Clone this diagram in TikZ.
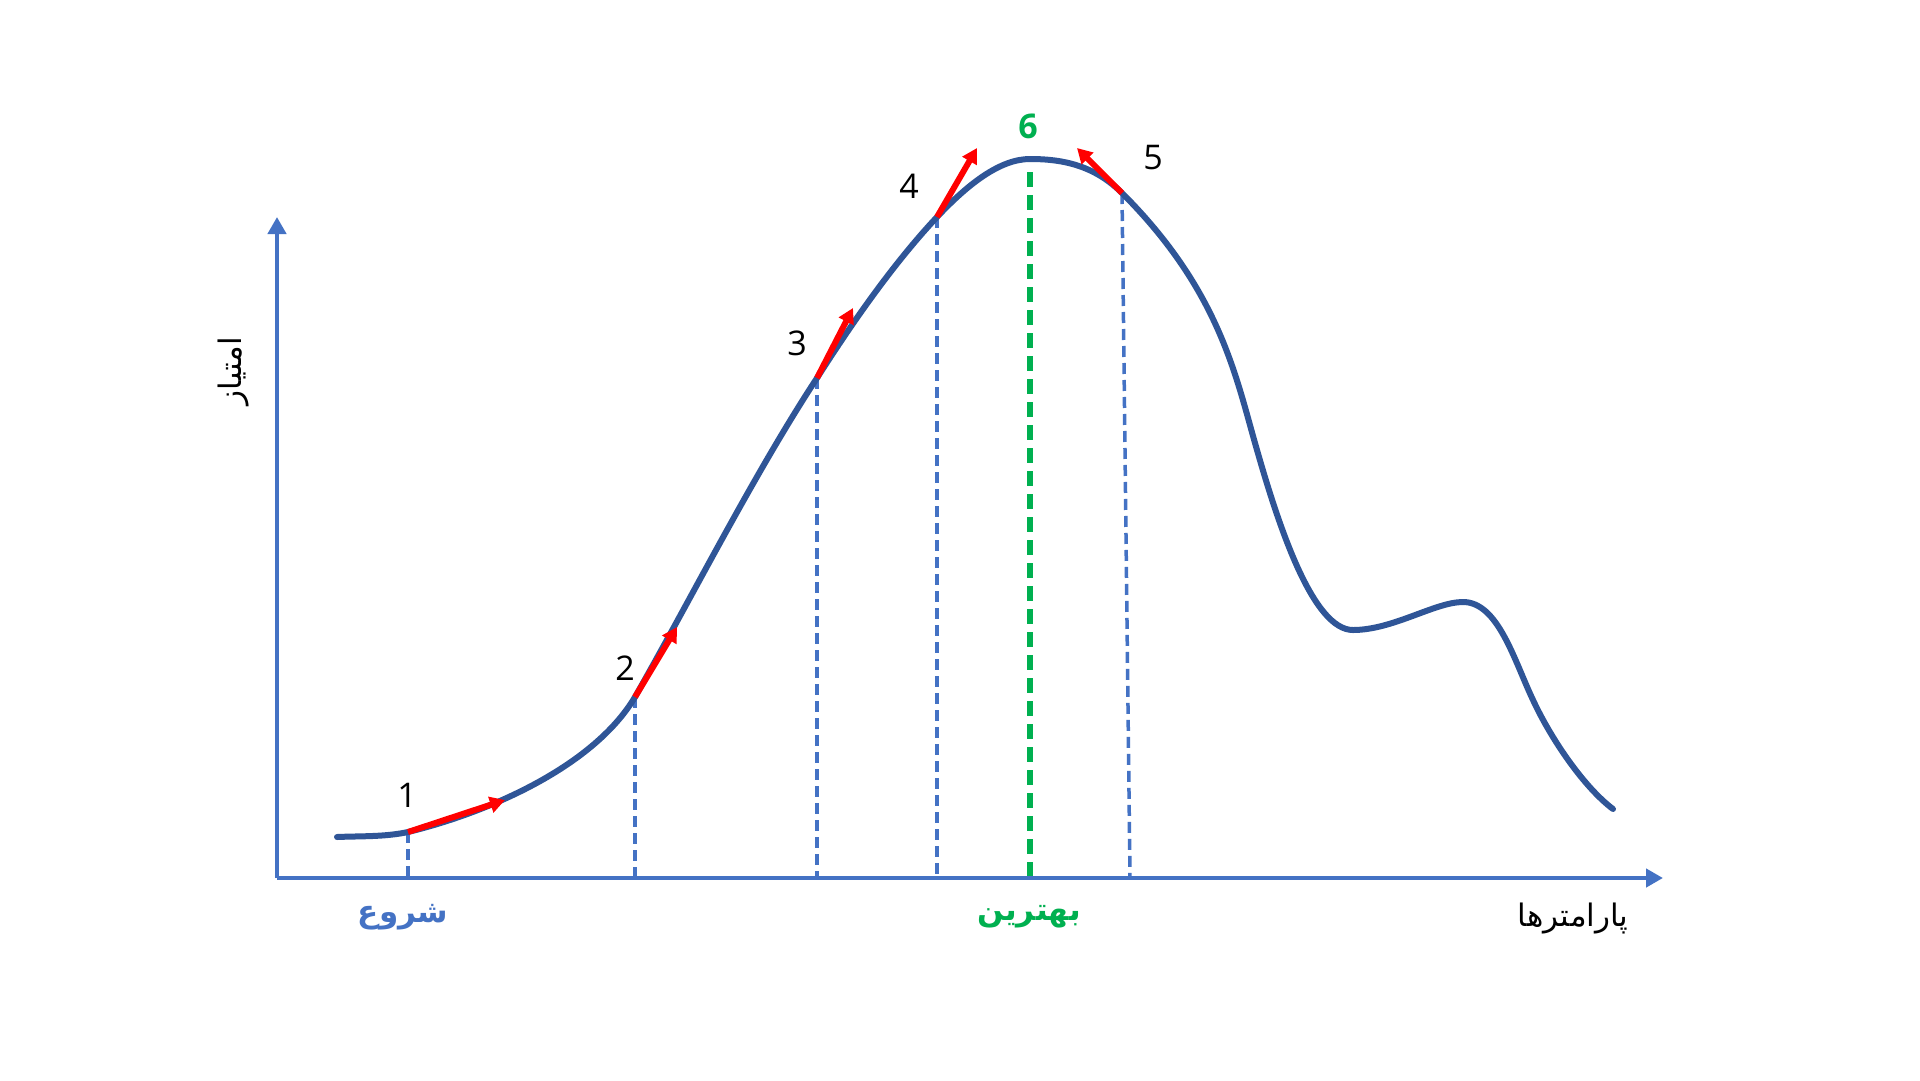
\documentclass[tikz,border=0pt]{standalone}
\usepackage{fontspec}
\setmainfont{Open Sans}
\newfontfamily\arabicfont[Script=Arabic]{DejaVu Sans}
\TeXXeTstate=1
\usetikzlibrary{arrows.meta}
\definecolor{axisblue}{HTML}{4472C4}
\definecolor{curveblue}{HTML}{2F5597}
\definecolor{bestgreen}{HTML}{00B050}
\definecolor{tanred}{HTML}{FF0000}
\tikzset{
  axisline/.style={axisblue, line width=4.5pt, -{Triangle[length=17pt,width=18pt]}},
  curveline/.style={curveblue, line width=6pt, line cap=round},
  tangent/.style={tanred, line width=6pt, -{Triangle[length=15pt,width=16pt]}},
  guide/.style={axisblue, line width=3.5pt, dash pattern=on 11pt off 6pt},
  bestguide/.style={bestgreen, line width=5.5pt, dash pattern=on 15pt off 8pt},
  numlabel/.style={font=\fontsize{34}{40}\selectfont, text=black, inner sep=0pt},
  arlabel/.style={font=\fontsize{31}{36}\selectfont\arabicfont, inner sep=0pt}
}
\begin{document}
\begin{tikzpicture}[x=1pt,y=-1pt]
\useasboundingbox (0,0) rectangle (1920,1080);
\fill[white] (0,0) rectangle (1920,1080);
% axes
\coordinate (O) at (277,878);
\coordinate (ytop) at (277,217);
\coordinate (xend) at (1663,878);
% points on curve
\coordinate (s) at (337,837);
\coordinate (p1) at (408,832);
\coordinate (p2) at (635,697);
\coordinate (p3) at (817,378);
\coordinate (p4) at (937,217);
\coordinate (p6) at (1030,159);
\coordinate (p5) at (1122,193);
\coordinate (p5b) at (1130,878);
\coordinate (a) at (1257,450);
\coordinate (m) at (1353,630);
\coordinate (l) at (1463,602);
\coordinate (b) at (1533,700);
\coordinate (e) at (1613,809);
% tangent tips
\coordinate (t1) at (505,800);
\coordinate (t2) at (677,627);
\coordinate (t3) at (853,308);
\coordinate (t4) at (977,148);
\coordinate (t5) at (1077,148);
% guide lines
\draw[guide] (p1) -- (p1 |- O);
\draw[guide] (p2) -- (p2 |- O);
\draw[guide] (p3) -- (p3 |- O);
\draw[guide] (p4) -- (p4 |- O);
\draw[guide] (p5) -- (p5b);
\draw[bestguide] (1030,172) -- (p6 |- O);
% axes
\draw[axisline] (O) -- (ytop);
\draw[axisline] (O) -- (xend);
% curve
\draw[curveline] (s)
  .. controls (360,836) and (385,837) .. (p1)
  .. controls (490,812) and (594,766) .. (p2)
  .. controls (692,597) and (754,474) .. (p3)
  .. controls (852,323) and (893,264) .. (p4)
  .. controls (968,184) and (1000,159) .. (p6)
  .. controls (1062,159) and (1094,165) .. (p5)
  .. controls (1221,292) and (1236,378) .. (a)
  .. controls (1279,527) and (1313,630) .. (m)
  .. controls (1393,630) and (1435,602) .. (l)
  .. controls (1498,602) and (1514,660) .. (b)
  .. controls (1552,741) and (1585,788) .. (e);
% tangents
\draw[tangent] (p1) -- (t1);
\draw[tangent] (p2) -- (t2);
\draw[tangent] (p3) -- (t3);
\draw[tangent] (p4) -- (t4);
\draw[tangent] (p5) -- (t5);
% labels
\node[numlabel] (l1) at (407,795) {1};
\node[numlabel] (l2) at (625,668) {2};
\node[numlabel] (l3) at (797,343) {3};
\node[numlabel] (l4) at (909,186) {4};
\node[numlabel] (l5) at (1153,158) {5};
\node[numlabel, text=bestgreen, font=\fontsize{34}{40}\selectfont\bfseries] (l6) at (1028,126) {6};
\node[arlabel, text=axisblue, font=\fontsize{31}{36}\selectfont\arabicfont\bfseries] (start) at (403,917) {\beginR شروع\endR};
\node[arlabel, text=bestgreen, font=\fontsize{31}{36}\selectfont\arabicfont\bfseries] (best) at (1029,917) {\beginR بهترین\endR};
\node[arlabel, text=black] (xlab) at (1573,918) {\beginR پارامترها\endR};
\node[arlabel, text=black, rotate=90] (ylab) at (234,371) {\beginR امتیاز\endR};
\end{tikzpicture}
\end{document}
